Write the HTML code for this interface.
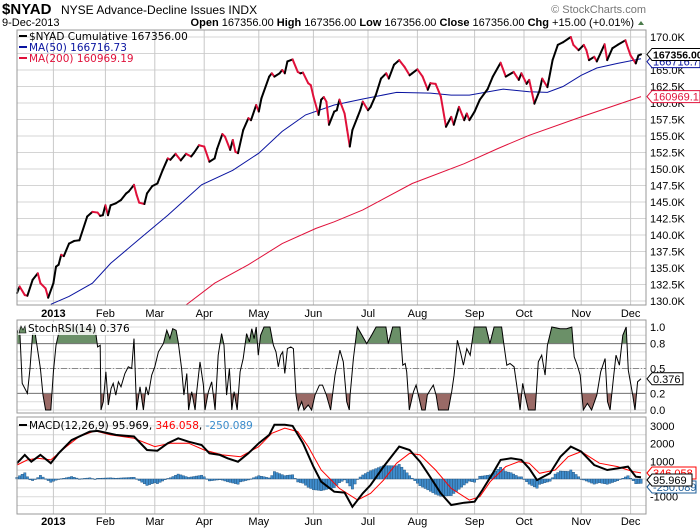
<!DOCTYPE html>
<html><head><meta charset="utf-8"><style>
html,body{margin:0;padding:0;background:#fff;}
svg{display:block;font-family:"Liberation Sans",sans-serif;}
</style></head><body>
<svg id="chart" width="700" height="530" viewBox="0 0 700 530" xmlns="http://www.w3.org/2000/svg">
<g>
<text x="2" y="14" font-size="15" font-weight="bold">$NYAD</text>
<text x="61" y="14" font-size="12">NYSE Advance-Decline Issues INDX</text>
<text x="2" y="26" font-size="11">9-Dec-2013</text>
<text x="634" y="26" font-size="11" text-anchor="end"><tspan font-weight="bold">Open</tspan> 167356.00 <tspan font-weight="bold">High</tspan> 167356.00 <tspan font-weight="bold">Low</tspan> 167356.00 <tspan font-weight="bold">Close</tspan> 167356.00 <tspan font-weight="bold">Chg</tspan> +15.00 (+0.01%)</text>
<path d="M638,25 l3,-4 l3,4z" fill="#4a7a4a"/>
<text x="646" y="13" font-size="11" fill="#777" text-anchor="end">© StockCharts.com</text>
</g>
<g id="main"></g>
<g id="stoch"></g>
<g id="macd"></g>
</svg>
<script>
// ---------- data ----------
const monthLabels = ["2013","Feb","Mar","Apr","May","Jun","Jul","Aug","Sep","Oct","Nov","Dec"];
const monthDays = [14,34,53,72,93,114,135,154,176,195,217,236];
const priceDays = [0,1,3,4,6,8,9,11,12,14,15,16,17,18,20,22,24,27,29,31,32,33,34,35,36,38,40,42,43,45,46,47,49,50,52,54,56,58,59,61,63,65,67,68,70,72,74,76,77,79,80,82,83,84,85,87,89,90,92,93,94,97,98,99,101,102,103,104,106,108,109,110,112,113,114,116,117,118,119,120,122,123,124,126,127,128,129,131,132,133,135,136,138,140,142,143,145,147,149,151,152,154,156,158,159,161,163,165,167,168,170,172,173,174,176,178,181,183,186,188,191,193,194,196,197,199,201,202,204,206,208,210,213,214,216,218,219,220,222,223,226,227,229,231,234,235,236,238,239,240];
const priceVals = [131.2,132.2,130.9,130.8,133.2,134.2,132.7,131.9,130.5,132.7,135.2,135.5,137.0,136.8,138.7,139.1,139.2,142.8,143.5,143.4,142.9,143.0,144.5,143.0,144.5,144.8,145.3,146.3,146.6,147.6,146.1,144.9,144.7,146.3,147.4,147.8,149.8,151.6,151.4,152.3,151.3,152.3,151.9,152.4,153.6,153.4,151.1,151.6,153.1,155.3,154.9,152.9,154.4,152.6,152.4,155.9,157.7,157.4,159.7,158.7,160.7,164.0,164.5,164.0,164.5,165.0,164.5,166.3,166.6,164.7,164.5,164.6,163.0,162.7,161.0,158.2,160.5,160.9,160.2,156.7,158.7,158.9,160.5,158.4,155.9,153.4,155.9,157.9,158.9,160.2,158.9,159.4,161.2,163.7,164.5,163.7,165.8,166.5,165.5,164.2,164.5,165.1,164.0,162.0,163.0,162.9,161.0,156.4,157.9,156.7,159.4,157.4,158.4,157.4,158.7,160.5,162.1,164.0,166.1,164.0,164.7,163.5,164.5,162.9,163.5,159.9,161.9,163.7,162.4,166.5,168.8,169.2,170.0,168.8,168.0,168.8,168.0,166.5,167.0,166.3,168.9,166.5,168.3,168.8,169.5,168.3,167.2,166.0,167.2,167.356];
const ma50Days = [13,20,29,36,48,58,71,83,93,102,111,122,133,146,159,167,174,187,197,204,210,217,223,231,240];
const ma50Vals = [129.5,130.7,132.7,135.7,139.7,143.0,147.6,149.8,152.4,155.7,158.2,159.7,160.6,161.6,161.5,161.2,161.2,162.1,161.7,161.6,162.5,164.2,165.3,166.0,166.717];
const ma200Days = [65,76,89,102,115,122,133,152,172,185,197,217,240];
const ma200Vals = [129.4,132.7,135.5,138.7,141.0,142.0,143.8,147.8,150.8,153.1,155.1,157.9,160.969];
const priceTicks = [130,132.5,135,137.5,140,142.5,145,147.5,150,152.5,155,157.5,160,162.5,165,167.5,170];
const stochDays = [0,1,2,4,5,6,7,9,10,11,13,14,15,16,18,30,31,32,32.3,33.2,34.2,35.1,36.2,37,38,39,40,41.5,42.8,44.1,45,46,47.3,48.6,49.6,50.5,51.8,53,54.4,56.3,57.6,58.8,59.9,61.2,62,63.3,64.2,65.3,66,67.2,68.5,69.1,70.4,71.7,72.3,73.6,74.9,76.2,77.4,78.7,79.6,80.6,81.7,82.6,83.5,84.7,85.8,87,88.3,89.4,90.3,91.2,92,92.8,93.7,95,97.3,98.6,99.6,100.5,101.4,102.2,103,104,105.3,106.3,107.3,108.2,109.5,110.4,112,113.3,114.6,116.3,117.5,119,120.6,122.3,124.2,125.5,126.8,127.8,128.1,129.4,130.9,134.5,136.4,138.1,141.9,142.8,144.5,147.3,148.4,149.3,149.9,150.9,152.5,153.5,154.4,155.7,157,157.8,158.9,160.1,161.2,162.1,165.9,167.2,168.1,169.4,170.7,171.7,173,174.3,175.8,180.4,181.9,183.5,186.4,187.3,188.4,189.6,191.2,192.2,193.5,194.5,195.4,196.7,199.3,200.5,201.8,203.1,204,205.7,208.9,211.4,213.4,214.3,215.5,216.6,217.8,219.4,221,223,224.5,226.2,227.1,228.1,229.4,230.4,231.7,233,234.3,235.1,236.8,237.7,238.7,240];
const stochVals = [0.92,1,0.32,0.2,0.5,0.92,0.92,0.5,0.18,0,0,0.46,0.78,0.92,1,1,0.76,0.78,0,0.1,0.46,0.06,0.26,0.32,0.18,0.34,0.28,0.44,0.52,0.5,0.86,0,0.28,0,0.28,0.18,0.42,0.52,0.7,0.8,0.96,0.86,0.98,0.96,0.82,0.5,0.18,0.44,0,0.22,0,0.22,0.58,0.3,0,0.22,0.34,0,0.66,0.92,0.78,0.18,0.5,0,0.22,0,0.46,0.62,0.92,0.82,0.98,0.86,1,0.66,0.9,1,1,0.78,0.7,0.52,0.66,0.7,0.44,0.74,0.76,0.74,0.18,0,0.1,0,0.06,0,0.18,0.3,0.3,0.18,0,0.42,0.72,0.58,0.1,0,0.18,0.62,1,0.8,0.9,1,1,0.8,1,1,0.54,0.56,0.46,0,0.22,0.3,0.18,0,0,0.18,0.24,0.3,0.18,0,0,0.22,0.42,0.84,0.68,0.54,0.74,0.66,1,1,0.8,1,1,0.78,0.54,0.56,0.52,0.3,0,0.32,0.18,0,0,0.58,0.66,0.42,0.78,1,0.98,0.98,1,0.64,0.54,0.42,0,0.08,0,0.18,0.46,0.62,0.1,0,0.38,0.66,0.54,0.9,1,0.48,0.18,0,0.34,0.376];
const stochTicks = [1.0,0.8,0.5,0.2,0.0];
const macdDays = [0,3,5.5,9,13,16,21,28,31,38,45,50,54,58,62,66,71,74,78,81,85,89,93,97,99,103,106,110,114,117,122,126,129,133,136,141,145,147,151,155,158,163,167,172,176,179,183,186,190,194,197,200,205,209,213,217,222,227,231,235,238,240];
const macdVals = [890,1360,980,1360,890,1450,2200,2680,2720,2490,2400,1640,1600,2020,2300,2110,1920,1450,1360,1170,980,1450,2020,2490,3060,3060,3000,2020,700,-150,-720,-770,-1570,-810,-340,700,1450,1830,1640,980,320,-810,-1470,-1340,-1280,-620,320,1080,1170,1080,600,-60,320,1260,1830,1550,790,510,600,700,130,96];
const signalDays = [0,4,8,13,19,24,30,36,45,53,59,66,72,79,86,93,98,103,108,112,117,124,131,136,141,146,151,155,161,167,174,178,182,188,193,197,201,207,212,217,224,231,237,240];
const signalVals = [790,1080,1170,1080,1830,2400,2720,2490,2300,1830,2020,2020,1640,1360,1260,1830,2580,2870,2680,1830,510,-530,-1190,-810,-60,890,1450,1360,510,-530,-1190,-1000,-150,700,980,890,320,510,1260,1550,890,700,420,346];
const macdTicks = [3000,2000,1000,-1000];

// ---------- helpers ----------
const NS = "http://www.w3.org/2000/svg";
const L = 17, R = 646, NDAYS = 240, XR = 641;
const LEGFONT = '"DejaVu Sans","Liberation Sans",sans-serif';
function X(d){ return L + d * (XR - L) / NDAYS; }
function mk(parent, tag, attrs, text){
  const e = document.createElementNS(NS, tag);
  for (const k in attrs) e.setAttribute(k, attrs[k]);
  if (text !== undefined) e.textContent = text;
  parent.appendChild(e); return e;
}
function interp(days, vals, d){
  if (d <= days[0]) return vals[0];
  for (let i = 1; i < days.length; i++) if (d <= days[i]) {
    const t = (d - days[i-1]) / (days[i] - days[i-1]);
    return vals[i-1] + t * (vals[i] - vals[i-1]);
  }
  return vals[vals.length-1];
}
function pathOf(days, vals, Y){ return days.map((d,i)=>(i?"L":"M")+X(d).toFixed(1)+","+Y(vals[i]).toFixed(1)).join(""); }
function vgrid(g, top, bot){
  monthDays.forEach((d,i)=>{
    const ln = mk(g,"line",{x1:X(d),x2:X(d),y1:top,y2:bot,stroke:"#c8c8c8","stroke-width":1});
    
    
  });
}
function monthText(g, y){
  monthDays.forEach((d,i)=>{
    const t = mk(g,"text",{x:X(d),y:y,"font-size":11,"text-anchor":"middle","font-weight":i===0?"bold":"normal"}, monthLabels[i]);
    
    
  });
}
function tagBox(g, y, txt, color, w, bold){
  const p = mk(g,"path",{d:`M${R+1},${y} l5,-6 h${w} v12 h-${w} z`,fill:"#fff",stroke:color,"stroke-width":1});
  
  
  const t = mk(g,"text",{x:R+7,y:y+4,"font-size":bold?10.5:11,fill:color,"font-weight":bold?"bold":"normal"}, txt);
  
  
}

// ---------- main panel ----------
(function(){
  const g = document.getElementById("main");
  const T = 30, B = 305;
  const Y = v => 37 + (170 - v) * 6.6;
  priceTicks.forEach(v=>{
    const ln = mk(g,"line",{x1:L,x2:R,y1:Y(v),y2:Y(v),stroke:"#d4d4d4"});
    
    
    const t = mk(g,"text",{x:650,y:Y(v)+4,"font-size":11}, v.toFixed(1)+"K");
    
    
  });
  vgrid(g, T, B);
  const m200 = mk(g,"path",{d:pathOf(ma200Days,ma200Vals,Y),fill:"none",stroke:"#e0103a","stroke-width":1});
  
  
  const m50 = mk(g,"path",{d:pathOf(ma50Days,ma50Vals,Y),fill:"none",stroke:"#0a14a0","stroke-width":1});
  
  
  for (let i = 1; i < priceDays.length; i++){
    const up = priceVals[i] >= priceVals[i-1];
    const s = mk(g,"line",{x1:X(priceDays[i-1]),y1:Y(priceVals[i-1]),x2:X(priceDays[i]),y2:Y(priceVals[i]),stroke:up?"#000":"#e0103a","stroke-width":2,"stroke-linecap":"round"});
    
    
  }
  const f = mk(g,"rect",{x:L,y:T,width:R-L,height:B-T,fill:"none",stroke:"#999"});
  
  
  const leg = [["$NYAD  Cumulative 167356.00","#000",40],["MA(50) 166716.73","#0a14a0",51],["MA(200) 160969.19","#e0103a",62]];
  leg.forEach(l=>{
    const ln = mk(g,"line",{x1:19,x2:27,y1:l[2]-4,y2:l[2]-4,stroke:l[1],"stroke-width":2});
    
    
    const t = mk(g,"text",{x:29,y:l[2],"font-size":10.5,"font-family":LEGFONT,fill:l[1],"xml:space":"preserve"}, l[0]);
    
    
  });
  tagBox(g, Y(166.717)+3, "166716.73", "#0a14a0", 48, false);
  tagBox(g, Y(167.356), "167356.00", "#000", 50, true);
  tagBox(g, Y(160.969), "160969.19", "#e0103a", 48, false);
  monthText(g, 317);
})();

// ---------- stoch panel ----------
(function(){
  const g = document.getElementById("stoch");
  const T = 320, B = 413;
  const Y = v => 410 - v * 83;
  for (let k = 0; k <= 10; k++){
    const v = k/10;
    const ln = mk(g,"line",{x1:L,x2:R,y1:Y(v),y2:Y(v),stroke:"#dadada"});
    
    
  }
  vgrid(g, T, B);
  const defs = mk(g,"defs",{});
  const c1 = mk(defs,"clipPath",{id:"cTop"}); mk(c1,"rect",{x:L,y:T,width:R-L,height:Y(0.8)-T});
  const c2 = mk(defs,"clipPath",{id:"cBot"}); mk(c2,"rect",{x:L,y:Y(0.2),width:R-L,height:B-Y(0.2)});
  const line = pathOf(stochDays, stochVals, Y);
  const x0 = X(stochDays[0]), x1 = X(stochDays[stochDays.length-1]);
  const ob = mk(g,"path",{d:line+`L${x1},${Y(0.8)}L${x0},${Y(0.8)}Z`,fill:"#6b9068","clip-path":"url(#cTop)"});
  
  
  const os = mk(g,"path",{d:line+`L${x1},${Y(0.2)}L${x0},${Y(0.2)}Z`,fill:"#9a6a66","clip-path":"url(#cBot)"});
  
  
  [[0.8,"#777",""],[0.2,"#777",""],[0.5,"#888","6,2,1,2"]].forEach(a=>{
    const ln = mk(g,"line",{x1:L,x2:R,y1:Y(a[0]),y2:Y(a[0]),stroke:a[1],"stroke-dasharray":a[2]});
    
    
  });
  const sl = mk(g,"path",{d:line,fill:"none",stroke:"#000","stroke-width":1});
  
  
  stochTicks.forEach(v=>{
    const t = mk(g,"text",{x:650,y:Y(v)+4,"font-size":11}, v.toFixed(1));
    
    
  });
  const f = mk(g,"rect",{x:L,y:T,width:R-L,height:B-T,fill:"none",stroke:"#999"});
  
  
  const bg = mk(g,"rect",{x:18,y:322,width:88,height:13,fill:"#fff","fill-opacity":0.85});
  
  
  const ic = mk(g,"path",{d:"M19,333 l2,-7 l2,4 l2,-4 l1,7 z",fill:"#6b9068",stroke:"#000","stroke-width":0.6});
  
  
  const t = mk(g,"text",{x:28,y:332,"font-size":10.5,"font-family":LEGFONT}, "StochRSI(14) 0.376");
  
  
  tagBox(g, Y(0.376), "0.376", "#000", 31, false);
})();

// ---------- macd panel ----------
(function(){
  const g = document.getElementById("macd");
  const T = 417, B = 514;
  const Y = v => 479 - v * 0.0177;
  for (let v = -1500; v <= 3500; v += 500){
    const ln = mk(g,"line",{x1:L,x2:R,y1:Y(v),y2:Y(v),stroke:"#dadada"});
    
    
  }
  vgrid(g, T, B);
  for (let d = 0; d <= NDAYS; d++){
    const h = interp(macdDays, macdVals, d) - interp(signalDays, signalVals, d);
    const y0 = Y(0), y1 = Y(h);
    const r = mk(g,"rect",{x:X(d)-1.2,y:Math.min(y0,y1),width:2.4,height:Math.max(0.5,Math.abs(y1-y0)),fill:"#3f8ccc",stroke:"#1f4f7a","stroke-width":0.4});
    
    
  }
  const sg = mk(g,"path",{d:pathOf(signalDays,signalVals,Y),fill:"none",stroke:"#f00","stroke-width":1});
  
  
  const ml = mk(g,"path",{d:pathOf(macdDays,macdVals,Y),fill:"none",stroke:"#000","stroke-width":2});
  
  
  macdTicks.forEach(v=>{
    const t = mk(g,"text",{x:650,y:Y(v)+4,"font-size":11}, String(v));
    
    
  });
  const f = mk(g,"rect",{x:L,y:T,width:R-L,height:B-T,fill:"none",stroke:"#999"});
  
  
  const sw = mk(g,"line",{x1:19,x2:27,y1:425,y2:425,stroke:"#000","stroke-width":2});
  
  
  const t = mk(g,"text",{x:29,y:429,"font-size":10.5,"font-family":LEGFONT});
  
  
  mk(t,"tspan",{},"MACD(12,26,9) 95.969, ");
  mk(t,"tspan",{fill:"#f00"},"346.058");
  mk(t,"tspan",{},", ");
  mk(t,"tspan",{fill:"#3a8ccc"},"-250.089");
  tagBox(g, 473, "346.058", "#f00", 44, false);
  tagBox(g, 487, "-250.089", "#1f5f9a", 44, false);
  tagBox(g, 480, "95.969", "#000", 40, false);
  monthText(g, 525);
})();
</script>
</body></html>
